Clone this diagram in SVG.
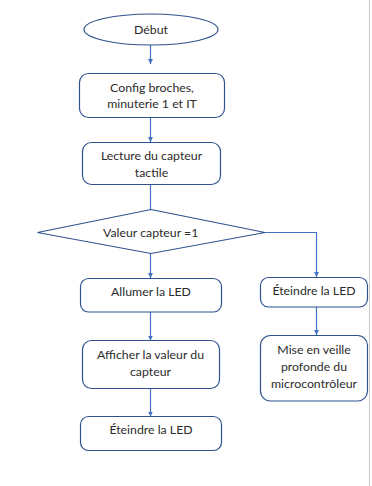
<svg xmlns="http://www.w3.org/2000/svg" width="372" height="486" viewBox="0 0 372 486">
  <style>
    .shape { fill: #ffffff; stroke: #2f528f; stroke-width: 1.2; }
    .label { font-family: "Lato", "Liberation Sans", sans-serif; font-size: 12.3px; fill: #2b2b2b; text-anchor: middle; dominant-baseline: central; }
    .link { fill: none; stroke: #4472c4; stroke-width: 1.2; }
  </style>
  <defs>
    <marker id="arrow" viewBox="0 0 6 6" refX="6" refY="3" markerWidth="5" markerHeight="5" orient="auto" markerUnits="userSpaceOnUse">
      <path d="M0,0 L6,3 L0,6 z" fill="#4472c4"/>
    </marker>
  </defs>
  <rect width="372" height="486" fill="#ffffff"/>
  <!-- page edge -->
  <line x1="369.5" y1="0" x2="369.5" y2="486" stroke="#c8c8c8" stroke-width="1"/>

  <g id="connectors">
    <line class="link" x1="150.5" y1="45" x2="150.5" y2="64" marker-end="url(#arrow)"/>
    <line class="link" x1="150.5" y1="117.5" x2="150.5" y2="142" marker-end="url(#arrow)"/>
    <line class="link" x1="150.5" y1="184.5" x2="150.5" y2="209.5"/>
    <line class="link" x1="150.5" y1="253.5" x2="150.5" y2="278" marker-end="url(#arrow)"/>
    <polyline class="link" points="265,232.5 316.5,232.5 316.5,277" marker-end="url(#arrow)"/>
    <line class="link" x1="150.5" y1="312" x2="150.5" y2="340.5" marker-end="url(#arrow)"/>
    <line class="link" x1="150.5" y1="389" x2="150.5" y2="416.5" marker-end="url(#arrow)"/>
    <line class="link" x1="316.5" y1="307" x2="316.5" y2="335" marker-end="url(#arrow)"/>
  </g>

  <g id="debut">
    <ellipse class="shape" cx="151" cy="29.5" rx="67" ry="15.5"/>
    <text class="label" x="151" y="29.5">Début</text>
  </g>

  <g id="config">
    <rect class="shape" x="79.5" y="73.5" width="145" height="44" rx="9"/>
    <text class="label" x="152" y="87">Config broches,</text>
    <text class="label" x="152" y="103.5">minuterie 1 et IT</text>
  </g>

  <g id="lecture">
    <rect class="shape" x="82.5" y="142.5" width="138" height="42" rx="9"/>
    <text class="label" x="151.5" y="155.5">Lecture du capteur</text>
    <text class="label" x="151.5" y="172">tactile</text>
  </g>

  <g id="decision">
    <polygon class="shape" points="151,209.5 265,232.5 151,253.5 37.5,232.5"/>
    <text class="label" x="150.7" y="232.5">Valeur capteur =1</text>
  </g>

  <g id="allumer">
    <rect class="shape" x="80.5" y="278.5" width="141" height="33.5" rx="8"/>
    <text class="label" x="151" y="291">Allumer la LED</text>
  </g>

  <g id="eteindre-droite">
    <rect class="shape" x="260.5" y="277.5" width="107" height="29.5" rx="8"/>
    <text class="label" x="314" y="290.5">Éteindre la LED</text>
  </g>

  <g id="afficher">
    <rect class="shape" x="82.5" y="340.5" width="137" height="48" rx="9"/>
    <text class="label" x="150.5" y="354">Afficher la valeur du</text>
    <text class="label" x="150.5" y="371">capteur</text>
  </g>

  <g id="veille">
    <rect class="shape" x="260.5" y="335.5" width="107" height="65.5" rx="10"/>
    <text class="label" x="314" y="349">Mise en veille</text>
    <text class="label" x="314" y="366">profonde du</text>
    <text class="label" x="314" y="383.5">microcontrôleur</text>
  </g>

  <g id="eteindre-gauche">
    <rect class="shape" x="80.5" y="416.5" width="141" height="34" rx="8"/>
    <text class="label" x="151" y="429">Éteindre la LED</text>
  </g>
</svg>
